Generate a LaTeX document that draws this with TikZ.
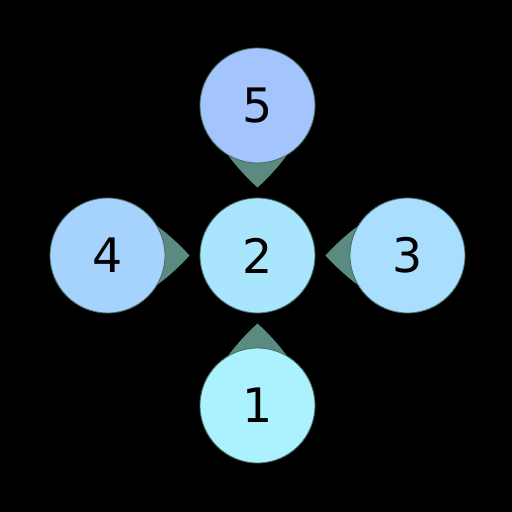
\documentclass[tikz,border=0pt]{standalone}
\usepackage{fontspec}
\setmainfont{DejaVu Sans}
\usetikzlibrary{calc}
\definecolor{nodefive}{RGB}{163, 196, 253}
\definecolor{nodefour}{RGB}{166, 210, 254}
\definecolor{nodethree}{RGB}{169, 222, 254}
\definecolor{nodetwo}{RGB}{169, 230, 254}
\definecolor{nodeone}{RGB}{171, 242, 254}
\definecolor{edgeteal}{RGB}{90, 138, 128}
\pgfdeclarelayer{bg}
\pgfsetlayers{bg,main}
\newcommand{\taper}[2]{%
    \fill [edgeteal] ($(#1)!0.8cm!(#2)!0.72cm!90:(#2)$)
        .. controls ($(#1)!1.093cm!(#2)!0.533cm!90:(#2)$) and ($(#1)!1.373cm!(#2)!0.293cm!90:(#2)$) .. ($(#1)!1.64cm!(#2)$)
        .. controls ($(#1)!1.373cm!(#2)!0.293cm!-90:(#2)$) and ($(#1)!1.093cm!(#2)!0.533cm!-90:(#2)$) .. ($(#1)!0.8cm!(#2)!0.72cm!-90:(#2)$)
        -- cycle;}
\begin{document}
\begin{tikzpicture}[node distance=3cm]
    % Define styles
    \tikzstyle{vertex} = [circle, minimum size=2.3cm, inner sep=0pt, draw=edgeteal!80!black, line width=0.5pt, font=\fontsize{27}{30}\selectfont]

    % Nodes
    \node [vertex, fill=nodetwo] (two) at (5.15,5.13) {2};
    \node [vertex, fill=nodefive, above of=two] (five) {5};
    \node [vertex, fill=nodefour, left of=two] (four) {4};
    \node [vertex, fill=nodethree, right of=two] (three) {3};
    \node [vertex, fill=nodeone, below of=two] (one) {1};

    % Edges behind the nodes
    \begin{pgfonlayer}{bg}
        \fill [black] (0,0) rectangle (10.24,10.24);
        \taper{five}{two}
        \taper{four}{two}
        \taper{three}{two}
        \taper{one}{two}
    \end{pgfonlayer}
    \useasboundingbox (0,0) rectangle (10.24,10.24);
\end{tikzpicture}
\end{document}
